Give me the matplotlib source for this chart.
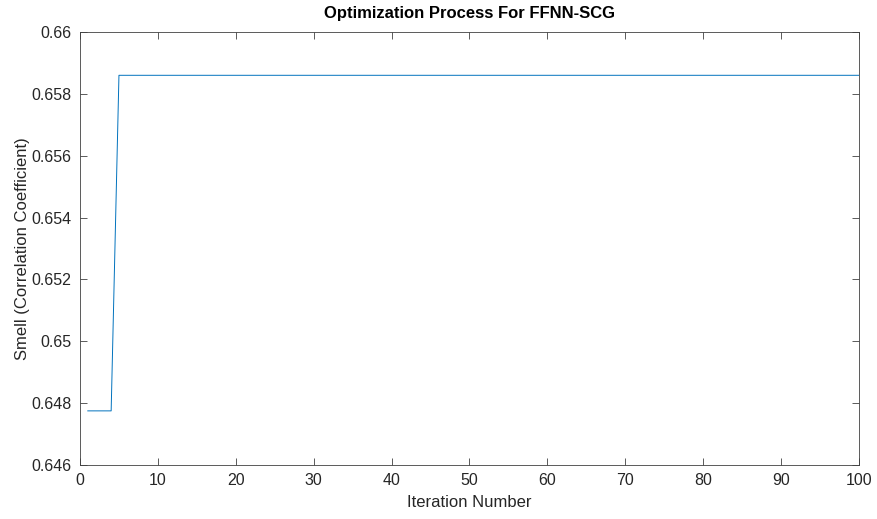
import matplotlib
matplotlib.use('Agg')
import matplotlib.pyplot as plt

plt.rcParams['font.family'] = ['Liberation Sans', 'DejaVu Sans']

# best-so-far correlation: flat, jump at iteration 5, flat to the end
iters = [1, 4, 5, 100]
smell = [0.64775, 0.64775, 0.65860, 0.65860]

xticks = [0, 10, 20, 30, 40, 50, 60, 70, 80, 90, 100]
yticks = [0.646, 0.648, 0.65, 0.652, 0.654, 0.656, 0.658, 0.66]
ytick_labels = ['0.646', '0.648', '0.65', '0.652', '0.654', '0.656', '0.658', '0.66']

fig = plt.figure(figsize=(8.77, 5.19), dpi=100)
ax = fig.add_axes([80 / 877, 1 - 465 / 519, (859 - 80) / 877, (465 - 32) / 519])

ax.plot(iters, smell, color='#0072BD', lw=0.7)

ax.set_xlim(0, 100)
ax.set_ylim(0.646, 0.66)
ax.set_xticks(xticks)
ax.set_yticks(yticks)
ax.set_yticklabels(ytick_labels)

for s in ax.spines.values():
    s.set_color('#404040')
    s.set_linewidth(0.6)
ax.tick_params(direction='in', length=5, width=0.6, color='#404040',
               labelsize=11.5, labelcolor='#262626', top=True, right=True, pad=6)

ax.set_xlabel('Iteration Number', fontsize=12, color='#262626', labelpad=5)
ax.set_ylabel('Smell (Correlation Coefficient)', fontsize=12, color='#262626', labelpad=1)
ax.set_title('Optimization Process For FFNN-SCG', fontsize=12, fontweight='bold', pad=10)

fig.savefig('out.png', dpi=100)
